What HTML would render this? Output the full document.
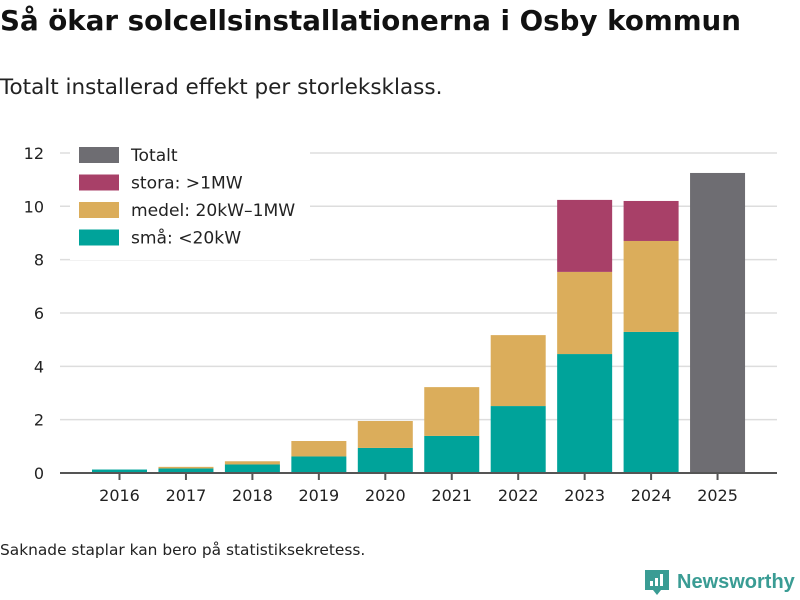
<!DOCTYPE html>
<html><head><meta charset="utf-8"><style>
body{margin:0;width:800px;height:600px;background:#fff;font-family:"DejaVu Sans",sans-serif;overflow:hidden;position:relative}
.t{position:absolute;left:0;top:4px;font-size:27.7px;font-weight:bold;color:#111;margin:0;white-space:nowrap}
.s{position:absolute;left:0;top:75px;font-size:21.5px;color:#222;white-space:nowrap}
.n{position:absolute;left:0;top:541px;font-size:15.4px;color:#222;white-space:nowrap}
</style></head><body>
<h1 class="t">Så ökar solcellsinstallationerna i Osby kommun</h1>
<div class="s">Totalt installerad effekt per storleksklass.</div>
<svg id="c" width="800" height="600" style="position:absolute;left:0;top:0"></svg>
<div class="n">Saknade staplar kan bero på statistiksekretess.</div>
<div style="position:absolute;left:645px;top:568px;display:flex;align-items:center">
<svg width="24" height="28"><path d="M0 2h24v20h-8l-4 5-4-5H0z" fill="#3a9c94"/><rect x="5" y="13" width="3" height="5" fill="#fff"/><rect x="10" y="10" width="3" height="8" fill="#fff"/><rect x="15" y="6" width="3" height="12" fill="#fff"/></svg>
<span style="color:#3a9c94;font-size:20px;font-weight:bold;margin-left:8px;font-family:'Liberation Sans',sans-serif">Newsworthy</span></div>
<script>
const years=["2016","2017","2018","2019","2020","2021","2022","2023","2024","2025"];
const sma=[0.13,0.17,0.32,0.62,0.94,1.39,2.51,4.46,5.29,0];
const medel=[0,0.06,0.12,0.58,1.01,1.83,2.66,3.08,3.41,0];
const stora=[0,0,0,0,0,0,0,2.7,1.5,0];
const totalt=[0,0,0,0,0,0,0,0,0,11.25];
const yTicks=[0,2,4,6,8,10,12];
const svg=document.getElementById('c');const NS='http://www.w3.org/2000/svg';
function y(v){return 473-v*26.67;}
function x(i){return 119.5+i*66.45;}
function el(t,a){const e=document.createElementNS(NS,t);for(const k in a)e.setAttribute(k,a[k]);svg.appendChild(e);return e;}
yTicks.forEach(v=>{const g=el('line',{x1:60,x2:777,y1:y(v),y2:y(v),stroke:'#ddd','stroke-width':1.5});


const t=el('text',{x:44,y:y(v)+6,'text-anchor':'end','font-size':16,fill:'#222','font-family':'DejaVu Sans'});t.textContent=v;

});
const series=[[sma,'#00a39a','bar-sma'],[medel,'#dbad5b','bar-medel'],[stora,'#a84068','bar-stora'],[totalt,'#6e6d72','bar-totalt']];
years.forEach((yr,i)=>{let base=0;series.forEach(([arr,col,nm])=>{const v=arr[i];if(v>0){const r=el('rect',{x:x(i)-27.5,width:55,y:y(base+v),height:y(base)-y(base+v),fill:col});

base+=v;}});
const tk=el('line',{x1:x(i),x2:x(i),y1:473,y2:480,stroke:'#555','stroke-width':2});


const t=el('text',{x:x(i),y:501,'text-anchor':'middle','font-size':16,fill:'#222','font-family':'DejaVu Sans'});t.textContent=yr;

});
const ax=el('line',{x1:60,x2:777,y1:473,y2:473,stroke:'#555','stroke-width':2});


const bg=el('rect',{x:70,y:140,width:240,height:120,fill:'#fff'});


[['Totalt','#6e6d72'],['stora: >1MW','#a84068'],['medel: 20kW–1MW','#dbad5b'],['små: <20kW','#00a39a']].forEach(([l,c],k)=>{
const r=el('rect',{x:79,y:147+k*27.5,width:40,height:16,fill:c});


const t=el('text',{x:131,y:161+k*27.5,'font-size':17.1,fill:'#222','font-family':'DejaVu Sans'});t.textContent=l;

});
</script>
</body></html>
